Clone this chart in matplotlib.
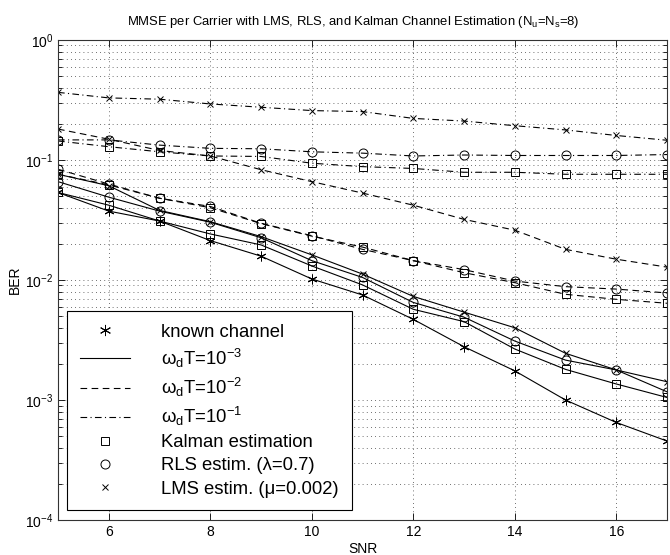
import numpy as np
import matplotlib
matplotlib.use('Agg')
import matplotlib.pyplot as plt
from matplotlib.lines import Line2D
from matplotlib.ticker import LogLocator, NullFormatter

plt.rcParams['font.family'] = ['Liberation Sans', 'DejaVu Sans']
plt.rcParams['mathtext.fontset'] = 'custom'
plt.rcParams['mathtext.rm'] = 'Liberation Sans'
plt.rcParams['mathtext.it'] = 'Liberation Sans'
plt.rcParams['mathtext.default'] = 'rm'

snr = [5, 6, 7, 8, 9, 10, 11, 12, 13, 14, 15, 16, 17]

known = [0.0536, 0.0375, 0.031, 0.0213, 0.0158, 0.0102, 0.0075, 0.0047, 0.00278, 0.00175, 0.00100, 0.00065, 0.000455]

# omega_d T = 1e-3 (solid)
kalman_1e3 = [0.0536, 0.042, 0.031, 0.0242, 0.0196, 0.0131, 0.0091, 0.0057, 0.0045, 0.00266, 0.0018, 0.00136, 0.00105]
rls_1e3 = [0.066, 0.049, 0.0375, 0.0303, 0.0225, 0.0145, 0.0105, 0.0065, 0.0049, 0.0031, 0.00215, 0.00178, 0.00117]
lms_1e3 = [0.076, 0.061, 0.038, 0.0306, 0.0230, 0.0162, 0.0112, 0.0073, 0.0054, 0.0040, 0.00245, 0.00178, 0.00142]

# omega_d T = 1e-2 (dashed)
kalman_1e2 = [0.076, 0.062, 0.048, 0.040, 0.0295, 0.0232, 0.0188, 0.0145, 0.0115, 0.0095, 0.0076, 0.0069, 0.0064]
rls_1e2 = [0.0837, 0.063, 0.048, 0.041, 0.0297, 0.0234, 0.0180, 0.0145, 0.0122, 0.0098, 0.0088, 0.0084, 0.0078]
lms_1e2 = [0.181, 0.149, 0.120, 0.108, 0.083, 0.066, 0.053, 0.042, 0.032, 0.026, 0.018, 0.0149, 0.0128]

# omega_d T = 1e-1 (dash-dot)
kalman_1e1 = [0.144, 0.129, 0.117, 0.108, 0.107, 0.094, 0.088, 0.085, 0.079, 0.079, 0.076, 0.076, 0.076]
rls_1e1 = [0.147, 0.147, 0.133, 0.125, 0.124, 0.117, 0.114, 0.108, 0.110, 0.109, 0.109, 0.109, 0.111]
lms_1e1 = [0.366, 0.329, 0.321, 0.293, 0.275, 0.258, 0.253, 0.222, 0.211, 0.193, 0.178, 0.160, 0.146]

legend_labels = ['known channel', r'ω$_\mathrm{d}$T=10$^{-3}$', r'ω$_\mathrm{d}$T=10$^{-2}$',
                 r'ω$_\mathrm{d}$T=10$^{-1}$', 'Kalman estimation', 'RLS estim. (λ=0.7)',
                 'LMS estim. (μ=0.002)']

dashed = (0, (6, 4))
dashdot = (0, (6, 3, 1, 3))
asterisk = (6, 2, 0)

fig = plt.figure(figsize=(6.7, 5.55), dpi=100)
ax = fig.add_axes([0.0866, 0.063, 0.909, 0.865])

line = dict(color='black', linewidth=0.8, markerfacecolor='none', markeredgewidth=0.7)
ax.plot(snr, lms_1e1, linestyle=dashdot, marker='x', markersize=5, **line)
ax.plot(snr, rls_1e1, linestyle=dashdot, marker='o', markersize=6.5, **line)
ax.plot(snr, kalman_1e1, linestyle=dashdot, marker='s', markersize=5.5, **line)
ax.plot(snr, lms_1e2, linestyle=dashed, marker='x', markersize=5, **line)
ax.plot(snr, rls_1e2, linestyle=dashed, marker='o', markersize=6.5, **line)
ax.plot(snr, kalman_1e2, linestyle=dashed, marker='s', markersize=5.5, **line)
ax.plot(snr, lms_1e3, linestyle='-', marker='x', markersize=5, **line)
ax.plot(snr, rls_1e3, linestyle='-', marker='o', markersize=6.5, **line)
ax.plot(snr, kalman_1e3, linestyle='-', marker='s', markersize=5.5, **line)
ax.plot(snr, known, linestyle='-', marker=asterisk, markersize=7, **line)

ax.set_yscale('log')
ax.set_xlim(5, 17)
ax.set_ylim(1e-4, 1)
ax.set_xticks([6, 8, 10, 12, 14, 16])
ax.yaxis.set_minor_locator(LogLocator(base=10, subs=np.arange(2, 10)))
ax.yaxis.set_minor_formatter(NullFormatter())
ax.tick_params(which='both', direction='in', top=True, right=True, labelsize=10)
ax.tick_params(which='major', length=5, width=0.6)
ax.tick_params(which='minor', length=3, width=0.6)
ax.grid(True, which='major', color='0.25', linestyle=(0, (1, 4)), linewidth=0.6)
ax.grid(True, which='minor', axis='y', color='0.25', linestyle=(0, (1, 4)), linewidth=0.6)
for s in ax.spines.values():
    s.set_linewidth(0.8)
    s.set_color('0.2')

ax.set_xlabel('SNR', fontsize=10, labelpad=2)
ax.set_ylabel('BER', fontsize=10, labelpad=2)
ax.set_title(r'MMSE per Carrier with LMS, RLS, and Kalman Channel Estimation (N$_\mathrm{u}$=N$_\mathrm{s}$=8)',
             fontsize=9.4, pad=11, x=0.485)

handles = [
    Line2D([], [], color='black', linestyle='none', marker=asterisk, markersize=8, markeredgewidth=0.7),
    Line2D([], [], color='black', linestyle='-', linewidth=0.8),
    Line2D([], [], color='black', linestyle=dashed, linewidth=0.8),
    Line2D([], [], color='black', linestyle=dashdot, linewidth=0.8),
    Line2D([], [], color='black', linestyle='none', marker='s', markersize=5.5, markerfacecolor='none', markeredgewidth=0.7),
    Line2D([], [], color='black', linestyle='none', marker='o', markersize=6.5, markerfacecolor='none', markeredgewidth=0.7),
    Line2D([], [], color='black', linestyle='none', marker='x', markersize=5, markeredgewidth=0.7),
]
leg = ax.legend(handles, legend_labels, loc='lower left', bbox_to_anchor=(0.015, 0.02), borderaxespad=0,
                fontsize=13.3, handlelength=2.7, handletextpad=1.7, borderpad=0.7, labelspacing=0.33,
                fancybox=False, framealpha=1, edgecolor='black')
leg.get_frame().set_linewidth(0.8)

plt.savefig('out.png', dpi=100)
